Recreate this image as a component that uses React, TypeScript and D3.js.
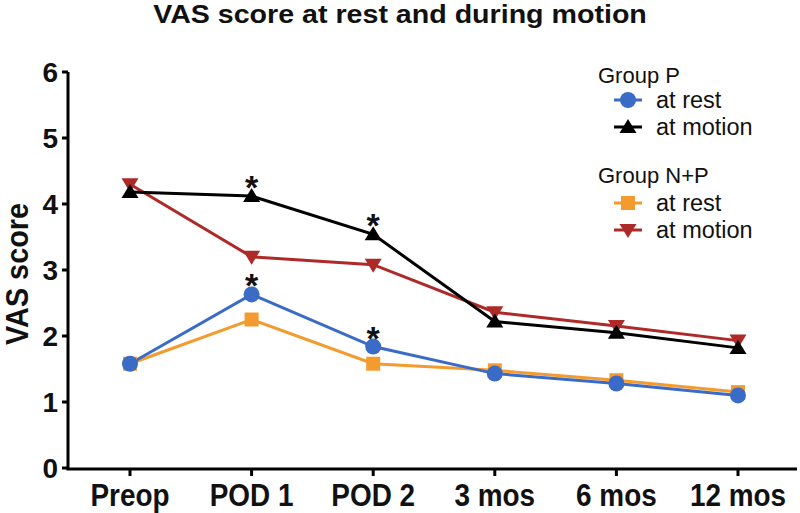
import React from "react";
import * as d3 from "d3";

const categories = ["Preop", "POD 1", "POD 2", "3 mos", "6 mos", "12 mos"];
const yTicks = [0, 1, 2, 3, 4, 5, 6];
const pRest = [1.58, 2.63, 1.84, 1.43, 1.28, 1.1];
const pMotion = [4.18, 4.12, 3.54, 2.22, 2.05, 1.82];
const npRest = [1.58, 2.25, 1.58, 1.48, 1.33, 1.15];
const npMotion = [4.3, 3.2, 3.08, 2.36, 2.15, 1.93];
const starsPMotion = [1, 2];
const starsPRest = [1, 2];

const W = 800;
const H = 513;
const FONT = "'Liberation Sans', Arial, Helvetica, sans-serif";

const x = d3.scalePoint<string>().domain(categories).range([130, 738]);
const y = d3.scaleLinear().domain([0, 6]).range([468, 72]);

const lineGen = d3
  .line<number>()
  .x((_, i) => x(categories[i]) as number)
  .y((d) => y(d));

const series = [
  { key: "npRest", data: npRest, color: "#F39B2F", shape: "square" },
  { key: "npMotion", data: npMotion, color: "#AE2A28", shape: "down" },
  { key: "pRest", data: pRest, color: "#3A6BC6", shape: "circle" },
  { key: "pMotion", data: pMotion, color: "#000000", shape: "up" },
];

function Marker({ shape, cx, cy, color }: { shape: string; cx: number; cy: number; color: string }) {
  if (shape === "circle") return <circle cx={cx} cy={cy} r={8} fill={color} />;
  if (shape === "square") return <rect x={cx - 7} y={cy - 7} width={14} height={14} fill={color} />;
  if (shape === "up")
    return <path d={`M${cx},${cy - 8} L${cx + 8.5},${cy + 6} L${cx - 8.5},${cy + 6} Z`} fill={color} />;
  return <path d={`M${cx},${cy + 8} L${cx + 8.5},${cy - 6} L${cx - 8.5},${cy - 6} Z`} fill={color} />;
}

export default function App() {
  const legendGroups = [
    { title: "Group P", ty: 75, items: [
      { label: "at rest", color: "#3A6BC6", shape: "circle", y: 100 },
      { label: "at motion", color: "#000000", shape: "up", y: 127 },
    ] },
    { title: "Group N+P", ty: 175, items: [
      { label: "at rest", color: "#F39B2F", shape: "square", y: 203 },
      { label: "at motion", color: "#AE2A28", shape: "down", y: 230 },
    ] },
  ];

  return (
    <svg width={W} height={H} style={{ display: "block", position: "absolute", left: 0, top: 0, background: "#fff" }} fontFamily={FONT}>
      <rect width={W} height={H} fill="#fff" />
      <text transform="translate(400,23) scale(1.1,1)" textAnchor="middle" fontSize={26} fontWeight="bold" fill="#111">
        VAS score at rest and during motion
      </text>

      {/* y axis */}
      <line x1={68} x2={68} y1={y(6)} y2={470} stroke="#000" strokeWidth={3} />
      {yTicks.map((t) => (
        <g key={t}>
          <line x1={62} x2={68} y1={y(t)} y2={y(t)} stroke="#000" strokeWidth={3} />
          <text x={58} y={y(t)} dy="0.36em" textAnchor="end" fontSize={28} fontWeight="bold" fill="#111">
            {t}
          </text>
        </g>
      ))}
      <text transform={`translate(28,274) rotate(-90) scale(0.9,1)`} textAnchor="middle" fontSize={32} fontWeight="bold" fill="#111">
        VAS score
      </text>

      {/* x axis */}
      <line x1={66.5} x2={797} y1={469} y2={469} stroke="#000" strokeWidth={3} />
      {categories.map((c) => (
        <g key={c}>
          <line x1={x(c)} x2={x(c)} y1={469} y2={476} stroke="#000" strokeWidth={3} />
          <text transform={`translate(${x(c)},506) scale(0.9,1)`} textAnchor="middle" fontSize={31} fontWeight="bold" fill="#111">
            {c}
          </text>
        </g>
      ))}

      {/* lines */}
      {series.map((s) => (
        <path key={s.key} d={lineGen(s.data) || ""} fill="none" stroke={s.color} strokeWidth={3} />
      ))}
      {series.map((s) => (
        <g key={s.key + "m"}>
          {s.data.map((v, i) => (
            <Marker key={i} shape={s.shape} cx={x(categories[i]) as number} cy={y(v)} color={s.color} />
          ))}
        </g>
      ))}

      {/* significance stars */}
      {starsPMotion.map((i) => (
        <text key={"sm" + i} x={x(categories[i])} y={y(pMotion[i]) + 3} textAnchor="middle" fontSize={34} fontWeight="bold" fill="#111">
          *
        </text>
      ))}
      {starsPRest.map((i) => (
        <text key={"sr" + i} x={x(categories[i])} y={y(pRest[i]) + 3} textAnchor="middle" fontSize={34} fontWeight="bold" fill="#111">
          *
        </text>
      ))}

      {/* legend */}
      {legendGroups.map((g) => (
        <g key={g.title}>
          <text x={598} y={g.ty} dy="0.36em" fontSize={22} fill="#111">
            {g.title}
          </text>
          {g.items.map((it) => (
            <g key={it.label + it.y}>
              <line x1={614} x2={642} y1={it.y} y2={it.y} stroke={it.color} strokeWidth={3} />
              <Marker shape={it.shape} cx={628} cy={it.y} color={it.color} />
              <text x={656} y={it.y} dy="0.36em" fontSize={23.5} fill="#111">
                {it.label}
              </text>
            </g>
          ))}
        </g>
      ))}
    </svg>
  );
}
